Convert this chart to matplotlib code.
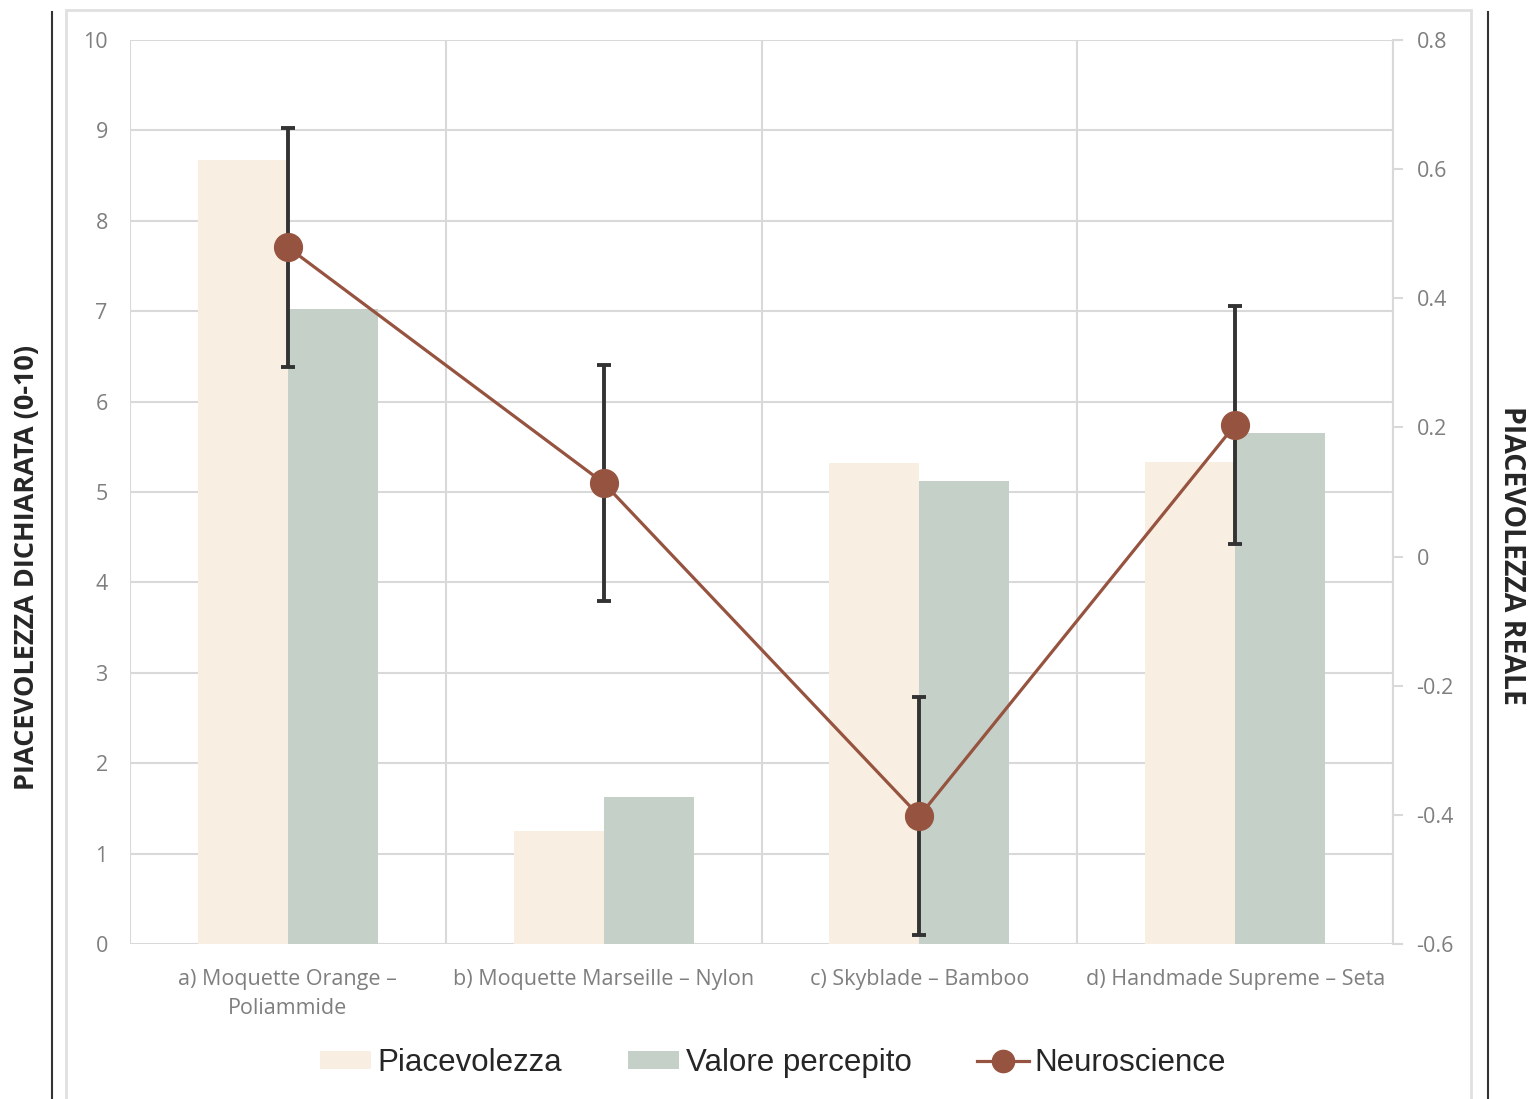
import matplotlib.pyplot as plt
import numpy as np
from matplotlib.patches import Rectangle
from matplotlib.lines import Line2D

# data
categories = ['a) Moquette Orange –\nPoliammide', 'b) Moquette Marseille – Nylon',
              'c) Skyblade – Bamboo', 'd) Handmade Supreme – Seta']
piacevolezza = [8.67, 1.25, 5.32, 5.33]
valore = [7.02, 1.63, 5.12, 5.65]
neuro = [0.479, 0.114, -0.402, 0.204]
neuro_err = [0.185, 0.183, 0.184, 0.184]

c_piac = '#F8EEE1'
c_val = '#C5D0C9'
c_neuro = '#96533F'
c_grid = '#D9D9D9'
c_tick = '#7F7F7F'

fig = plt.figure(figsize=(15.29, 10.99), dpi=100)
ax = fig.add_axes([130/1529, 1-944/1099, (1393-130)/1529, (944-40)/1099])
ax2 = ax.twinx()

x = np.arange(len(categories))
w = 0.285
ax.bar(x - w/2, piacevolezza, w, color=c_piac, label='Piacevolezza', zorder=2)
ax.bar(x + w/2, valore, w, color=c_val, label='Valore percepito', zorder=2)

ax.set_xlim(-0.5, 3.5)
ax.set_ylim(0, 10)
ax.set_yticks(range(0, 11))
ax.set_xticks(x)
ax.set_xticklabels(categories, fontfamily='Open Sans', fontsize=15.5, color=c_tick,
                   linespacing=1.5)
ax.tick_params(axis='x', length=0, pad=18)
ax.tick_params(axis='y', length=0, labelsize=15.5, labelcolor=c_tick, pad=16)
for lab in ax.get_yticklabels():
    lab.set_fontfamily('Open Sans')
for yv in range(0, 11):
    ax.axhline(yv, color=c_grid, lw=1.5, zorder=1)
for xv in np.arange(-0.5, 4, 1):
    ax.axvline(xv, color=c_grid, lw=1.5, zorder=1)
for s in ax.spines.values():
    s.set_visible(False)

ax2.errorbar(x, neuro, yerr=neuro_err, fmt='none', ecolor='#333333',
             elinewidth=2.8, capsize=5, capthick=2.8, zorder=3)
ax2.plot(x, neuro, color=c_neuro, lw=2.3, marker='o', ms=20,
         label='Neuroscience', zorder=4)
ax2.set_ylim(-0.6, 0.8)
ax2.set_yticks([-0.6, -0.4, -0.2, 0, 0.2, 0.4, 0.6, 0.8])
ax2.set_yticklabels(['-0.6', '-0.4', '-0.2', '0', '0.2', '0.4', '0.6', '0.8'],
                    fontfamily='Open Sans', fontsize=15.5, color=c_tick)
ax2.tick_params(axis='y', length=7, width=1.5, color=c_grid, pad=10)
for k, s in ax2.spines.items():
    s.set_visible(k == 'right')
ax2.spines['right'].set_color(c_grid)
ax2.spines['right'].set_linewidth(1.5)

fig.text(27/1529, 1-567/1099, 'PIACEVOLEZZA DICHIARATA (0-10)', rotation=90,
         ha='center', va='center', fontsize=19.5, fontweight='bold',
         fontfamily='Open Sans', color='#262626')
fig.text(1512/1529, 1-555/1099, 'PIACEVOLEZZA REALE', rotation=270,
         ha='center', va='center', fontsize=20.5, fontweight='bold',
         fontfamily='Open Sans', color='#262626')

# outer frame and side lines
fig.patches.append(Rectangle((66/1529, -0.01), (1471-66)/1529, 1.01 - 10/1099,
                             transform=fig.transFigure, fill=False,
                             edgecolor='#E0E0E0', lw=2))
fig.lines.append(Line2D([52/1529, 52/1529], [0, 1-12/1099], transform=fig.transFigure,
                        color='#333333', lw=1.5))
fig.lines.append(Line2D([1488/1529, 1488/1529], [0, 1-12/1099], transform=fig.transFigure,
                        color='#333333', lw=1.5))

h1, l1 = ax.get_legend_handles_labels()
h2, l2 = ax2.get_legend_handles_labels()
fig.legend(h1 + h2, l1 + l2, loc='center', bbox_to_anchor=(773/1529, 1-1063/1099),
           ncol=3, frameon=False, prop={'family': 'Liberation Sans', 'size': 22.5},
           handlelength=1.65, handleheight=0.5, handletextpad=0.2,
           columnspacing=2.1, markerscale=0.8, labelcolor='#262626')

fig.savefig('out.png', dpi=100)
